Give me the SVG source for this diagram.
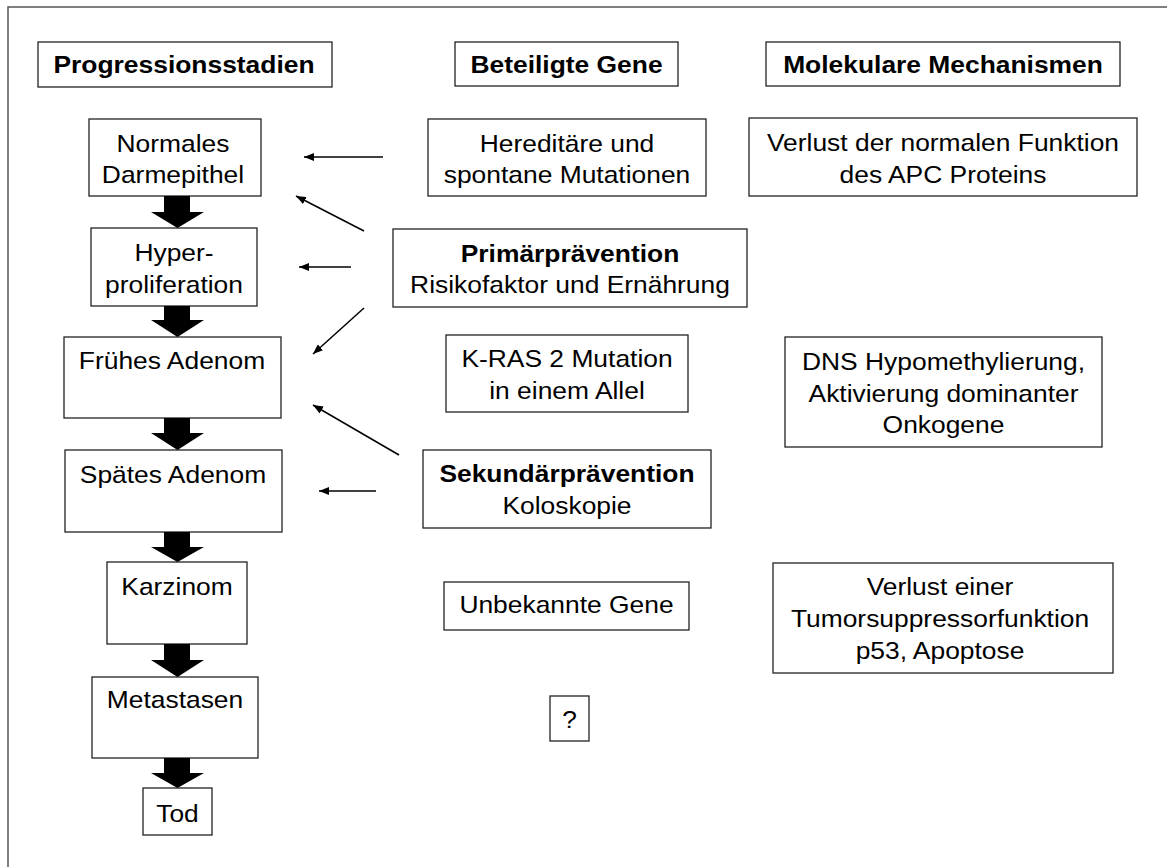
<svg xmlns="http://www.w3.org/2000/svg" width="1167" height="867" viewBox="0 0 1167 867">
<style>
.box{fill:#fff;stroke:#222;stroke-width:1.3}
.t{font-family:"Liberation Sans",Arial,sans-serif;font-size:24px;fill:#000;text-anchor:middle}
.b{font-weight:bold}
.thin{stroke:#000;stroke-width:1.5;fill:none;marker-end:url(#ah)}
.blk{fill:#000}
</style>
<defs>
<marker id="ah" viewBox="0 0 10 8" refX="10" refY="4" markerWidth="10" markerHeight="8" markerUnits="userSpaceOnUse" orient="auto">
<path d="M0,0 L10,4 L0,8 Z" fill="#000"/>
</marker>
</defs>
<rect x="0" y="0" width="1167" height="867" fill="#fff"/>
<path d="M8,867 V7 H1167" fill="none" stroke="#555" stroke-width="1.5"/>

<g id="h1"><rect class="box" x="38" y="42" width="294" height="45"/><text class="t b" transform="translate(184,73) scale(1.1,1)">Progressionsstadien</text></g>
<g id="h2"><rect class="box" x="455" y="42" width="223" height="44"/><text class="t b" transform="translate(566.5,73) scale(1.1,1)">Beteiligte Gene</text></g>
<g id="h3"><rect class="box" x="766" y="42" width="354" height="44"/><text class="t b" transform="translate(943,73) scale(1.1,1)">Molekulare Mechanismen</text></g>

<g id="s1"><rect class="box" x="89" y="119" width="172" height="77"/><text class="t" transform="translate(173,152) scale(1.1,1)">Normales</text><text class="t" transform="translate(173,183) scale(1.1,1)">Darmepithel</text></g>
<g id="s2"><rect class="box" x="91" y="228" width="166" height="78"/><text class="t" transform="translate(174,261) scale(1.1,1)">Hyper-</text><text class="t" transform="translate(174,293) scale(1.1,1)">proliferation</text></g>
<g id="s3"><rect class="box" x="64" y="337" width="217" height="81"/><text class="t" transform="translate(172,369) scale(1.1,1)">Frühes Adenom</text></g>
<g id="s4"><rect class="box" x="65" y="450" width="217" height="82"/><text class="t" transform="translate(173,483) scale(1.1,1)">Spätes Adenom</text></g>
<g id="s5"><rect class="box" x="107" y="562" width="140" height="82"/><text class="t" transform="translate(177,595) scale(1.1,1)">Karzinom</text></g>
<g id="s6"><rect class="box" x="92" y="677" width="166" height="81"/><text class="t" transform="translate(175,708) scale(1.1,1)">Metastasen</text></g>
<g id="s7"><rect class="box" x="143" y="788" width="69" height="47"/><text class="t" transform="translate(177.5,822) scale(1.1,1)">Tod</text></g>

<g id="g1"><rect class="box" x="428" y="119" width="278" height="77"/><text class="t" transform="translate(567,152) scale(1.1,1)">Hereditäre und</text><text class="t" transform="translate(567,183) scale(1.1,1)">spontane Mutationen</text></g>
<g id="g2"><rect class="box" x="393" y="229" width="354" height="78"/><text class="t b" transform="translate(570,262) scale(1.1,1)">Primärprävention</text><text class="t" transform="translate(570,293) scale(1.1,1)">Risikofaktor und Ernährung</text></g>
<g id="g3"><rect class="box" x="446" y="335" width="242" height="77"/><text class="t" transform="translate(567,367) scale(1.1,1)">K-RAS 2 Mutation</text><text class="t" transform="translate(567,399) scale(1.1,1)">in einem Allel</text></g>
<g id="g4"><rect class="box" x="423" y="450" width="288" height="78"/><text class="t b" transform="translate(567,482) scale(1.1,1)">Sekundärprävention</text><text class="t" transform="translate(567,514) scale(1.1,1)">Koloskopie</text></g>
<g id="g5"><rect class="box" x="444" y="582" width="245" height="48"/><text class="t" transform="translate(566.5,613) scale(1.1,1)">Unbekannte Gene</text></g>
<g id="g6"><rect class="box" x="550" y="696" width="39" height="45"/><text class="t" transform="translate(569.5,728) scale(1.1,1)">?</text></g>

<g id="m1"><rect class="box" x="749" y="118" width="388" height="78"/><text class="t" transform="translate(943,151) scale(1.1,1)">Verlust der normalen Funktion</text><text class="t" transform="translate(943,183) scale(1.1,1)">des APC Proteins</text></g>
<g id="m2"><rect class="box" x="785" y="337" width="317" height="110"/><text class="t" transform="translate(943.5,370) scale(1.1,1)">DNS Hypomethylierung,</text><text class="t" transform="translate(943.5,402) scale(1.1,1)">Aktivierung dominanter</text><text class="t" transform="translate(943.5,433) scale(1.1,1)">Onkogene</text></g>
<g id="m3"><rect class="box" x="773" y="563" width="340" height="110"/><text class="t" transform="translate(940,595) scale(1.1,1)">Verlust einer</text><text class="t" transform="translate(940,627) scale(1.1,1)">Tumorsuppressorfunktion</text><text class="t" transform="translate(940,659) scale(1.1,1)">p53, Apoptose</text></g>

<g id="connectors">
<path class="blk" d="M164,196 H190 V212 H204 L177.5,228 L151,212 H164 Z"/>
<path class="blk" d="M164,306 H190 V320 H204 L177.5,337 L151,320 H164 Z"/>
<path class="blk" d="M164,418 H190 V433 H204 L177.5,450 L151,433 H164 Z"/>
<path class="blk" d="M164,532 H190 V547 H204 L177.5,562 L151,547 H164 Z"/>
<path class="blk" d="M164,644 H190 V660 H204 L177.5,677 L151,660 H164 Z"/>
<path class="blk" d="M164,758 H190 V773 H204 L177.5,788 L151,773 H164 Z"/>
<line class="thin" x1="383" y1="157" x2="304" y2="157"/>
<line class="thin" x1="364" y1="231" x2="296" y2="196"/>
<line class="thin" x1="351" y1="267" x2="299" y2="267"/>
<line class="thin" x1="364" y1="308" x2="313" y2="354"/>
<line class="thin" x1="399" y1="455" x2="313" y2="405"/>
<line class="thin" x1="376" y1="491" x2="319" y2="491"/>
</g>
</svg>
